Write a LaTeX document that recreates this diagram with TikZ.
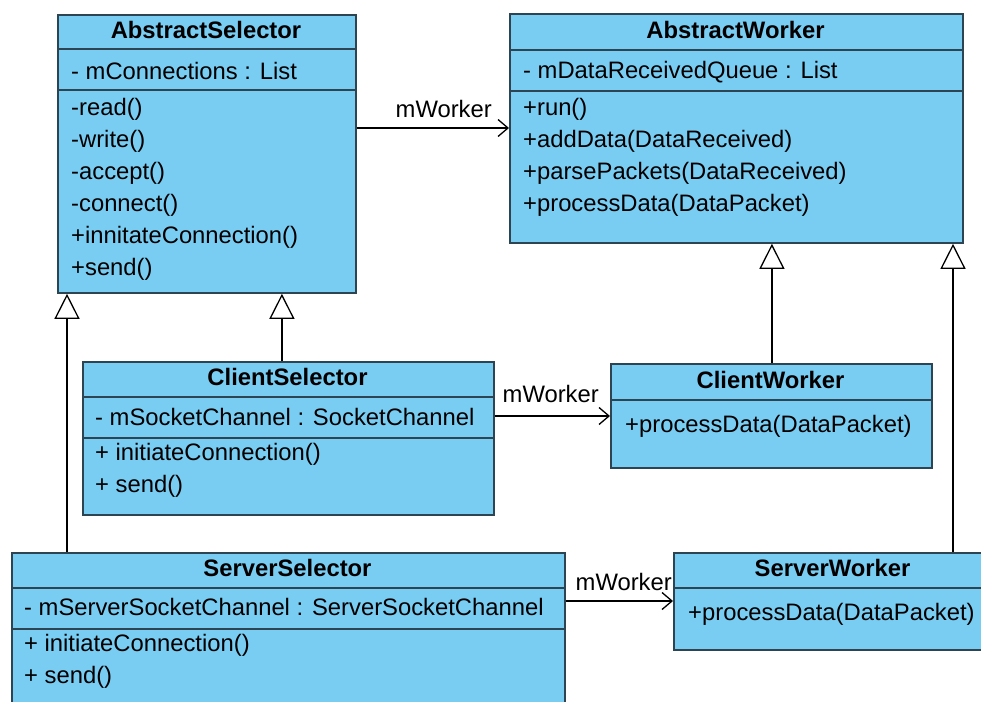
\documentclass[tikz,border=0pt]{standalone}
\usepackage{fontspec}
\setmainfont{Liberation Sans}
\usetikzlibrary{arrows.meta}

\definecolor{classfill}{RGB}{122,205,242}
\definecolor{classline}{RGB}{45,68,82}

\tikzset{
  umlfont/.style={font=\fontsize{23.8}{28}\selectfont},
  classbox/.style={draw=classline, fill=classfill, line width=1.8pt,
    rectangle, anchor=north west, inner sep=0pt},
  sepline/.style={draw=classline, line width=1.8pt},
  title/.style={font=\fontsize{23.8}{28}\selectfont\bfseries, anchor=base, inner sep=0pt},
  member/.style={umlfont, anchor=base west, inner sep=0pt},
  lbl/.style={umlfont, anchor=base east, inner sep=0pt},
  assoc/.style={draw=black, line width=1.3pt,
    -{Straight Barb[length=10pt, width=17pt, line width=1.3pt]}},
  gen/.style={draw=black, line width=1.3pt,
    -{Triangle[open, length=25pt, width=25pt, line width=1.3pt, fill=white]}}
}

\begin{document}
\begin{tikzpicture}[x=1pt, y=-1pt]
\useasboundingbox (0,0) rectangle (981,701);
\clip (0,0) rectangle (981,701);

% ---------- AbstractSelector ----------
\node[classbox, minimum width=298pt, minimum height=278pt] (as) at (57,14) {};
\draw[sepline] (57,49) -- (355,49);
\draw[sepline] (57,90) -- (355,90);
\node[title] (asT) at (206,39) {AbstractSelector};
\node[member] (asA) at (71,79) {- mConnections : List};
\node[member] (asM1) at (71,115) {-read()};
\node[member] (asM2) at (71,147) {-write()};
\node[member] (asM3) at (71,179) {-accept()};
\node[member] (asM4) at (71,211) {-connect()};
\node[member] (asM5) at (71,243) {+innitateConnection()};
\node[member] (asM6) at (71,275) {+send()};

% ---------- AbstractWorker ----------
\node[classbox, minimum width=453pt, minimum height=229pt] (aw) at (509,13) {};
\draw[sepline] (509,50) -- (962,50);
\draw[sepline] (509,91) -- (962,91);
\node[title] (awT) at (735.5,38) {AbstractWorker};
\node[member] (awA) at (523,78) {- mDataReceivedQueue : List};
\node[member] (awM1) at (523,115) {+run()};
\node[member] (awM2) at (523,147) {+addData(DataReceived)};
\node[member] (awM3) at (523,179) {+parsePackets(DataReceived)};
\node[member] (awM4) at (523,211) {+processData(DataPacket)};

% ---------- ClientSelector ----------
\node[classbox, minimum width=411pt, minimum height=153pt] (cs) at (82,361) {};
\draw[sepline] (82,397) -- (493,397);
\draw[sepline] (82,438) -- (493,438);
\node[title] (csT) at (287.5,385) {ClientSelector};
\node[member] (csA) at (95,425) {- mSocketChannel : SocketChannel};
\node[member] (csM1) at (95,460) {+ initiateConnection()};
\node[member] (csM2) at (95,492) {+ send()};

% ---------- ClientWorker ----------
\node[classbox, minimum width=321pt, minimum height=104pt] (cw) at (610,363) {};
\draw[sepline] (610,400) -- (931,400);
\node[title] (cwT) at (770.5,388) {ClientWorker};
\node[member] (cwM1) at (625,432) {+processData(DataPacket)};

% ---------- ServerSelector ----------
\node[classbox, minimum width=553pt, minimum height=170pt] (ss) at (11,552) {};
\draw[sepline] (11,588) -- (564,588);
\draw[sepline] (11,629) -- (564,629);
\node[title] (ssT) at (287.5,576) {ServerSelector};
\node[member] (ssA) at (24,615) {- mServerSocketChannel : ServerSocketChannel};
\node[member] (ssM1) at (24,651) {+ initiateConnection()};
\node[member] (ssM2) at (24,683) {+ send()};

% ---------- ServerWorker ----------
\node[classbox, minimum width=319pt, minimum height=97pt] (sw) at (673,552) {};
\draw[sepline] (673,588) -- (992,588);
\node[title] (swT) at (832.5,576) {ServerWorker};
\node[member] (swM1) at (688,620) {+processData(DataPacket)};

% ---------- associations ----------
\draw[assoc] ([yshift=-114pt]as.north east) -- ([yshift=-114pt]as.north east -| aw.west);
\node[lbl] (l1) at (492,117) {mWorker};

\draw[assoc] ([yshift=-55pt]cs.north east) -- ([yshift=-55pt]cs.north east -| cw.west);
\node[lbl] (l2) at (599,402) {mWorker};

\draw[assoc] ([yshift=-49pt]ss.north east) -- ([yshift=-49pt]ss.north east -| sw.west);
\node[lbl] (l3) at (672,590) {mWorker};

% ---------- generalizations ----------
\draw[gen] ([xshift=-6.5pt]cs.north) -- ([xshift=-6.5pt]cs.north |- as.south);
\draw[gen] ([xshift=56pt]ss.north west) -- ([xshift=56pt]ss.north west |- as.south);
\draw[gen] ([xshift=0.5pt]cw.north) -- ([xshift=0.5pt]cw.north |- aw.south);
\draw[gen] ([xshift=280pt]sw.north west) -- ([xshift=280pt]sw.north west |- aw.south);
\end{tikzpicture}
\end{document}
